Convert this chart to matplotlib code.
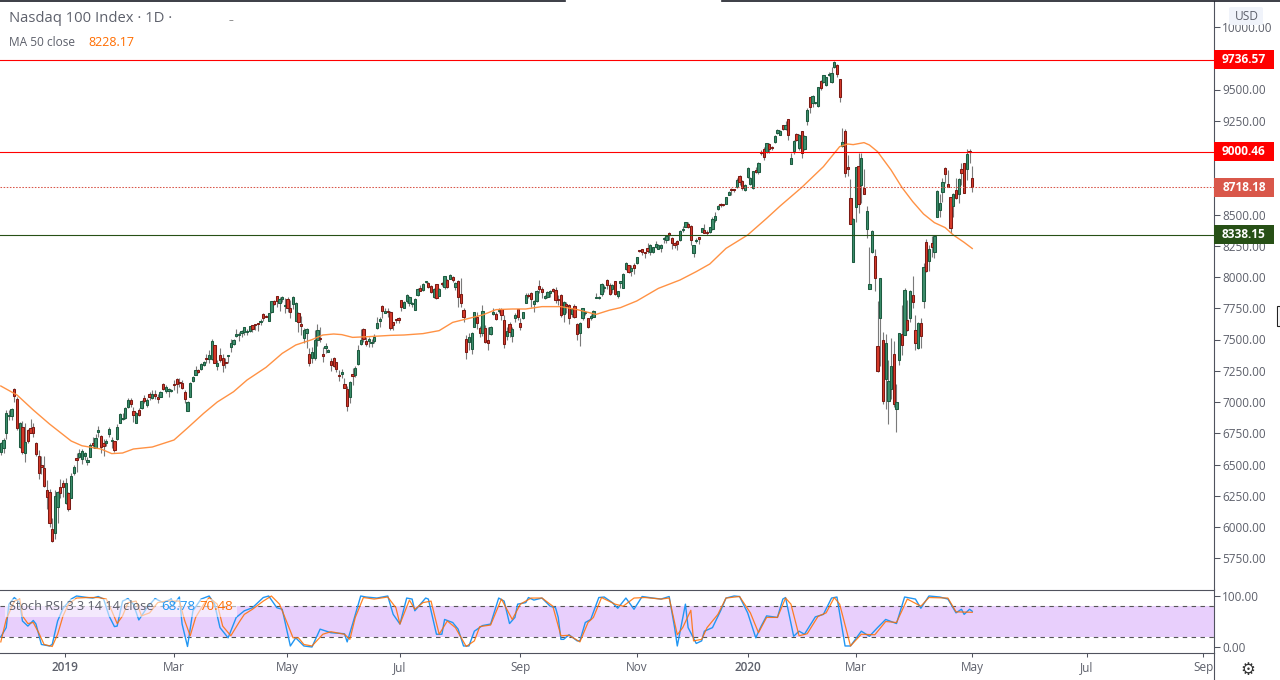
import matplotlib
matplotlib.use("Agg")
import matplotlib.pyplot as plt
from matplotlib.patches import Rectangle, FancyBboxPatch
from matplotlib.transforms import blended_transform_factory

plt.rcParams["font.family"] = ["Open Sans", "DejaVu Sans"]

# open, high, low, close, one list per stretch of the chart
bars_dec_jan = [
    (6603,6683,6576,6669),(6629,6709,6595,6696),(6749,6936,6701,6909),(6885,6936,6856,6890),(6888,6949,6856,6941),
    (7101,7109,7003,7051),(7024,7043,6776,6789),(6643,6843,6629,6829),(6797,6851,6584,6603),(6595,6829,6523,6677),
    (6776,6781,6669,6691),(6789,6861,6755,6755),(6797,6829,6717,6755),(6669,6683,6568,6587),(6565,6616,6384,6435),
    (6496,6568,6424,6483),(6469,6568,6323,6331),(6296,6376,6141,6237),(6283,6301,6003,6035),(5981,6069,5883,5891),
    (5955,6296,5901,6251),(6157,6291,6035,6277),(6317,6381,6229,6275),(6349,6376,6243,6323),(6189,6389,6184,6349),
    (6269,6283,6131,6141),(6235,6435,6229,6411),(6429,6496,6416,6477),(6549,6595,6443,6539),(6563,6621,6549,6589),
    (6541,6621,6504,6611),(6571,6603,6536,6595),(6523,6557,6499,6536),(6563,6669,6557,6656),(6669,6717,6629,6659),
    (6635,6741,6629,6709),(6763,6808,6717,6776),(6728,6736,6595,6637),(6675,6701,6571,6648),(6669,6701,6651,6691),
    (6747,6803,6723,6781),(6688,6723,6629,6691),(6685,6691,6600,6619),(6701,6824,6696,6797),(6835,6915,6829,6901),
    (6861,6915,6856,6869),(6869,6957,6861,6949),(6963,7029,6949,7016),(7013,7029,6957,6987),(6925,6957,6843,6899),
    (6835,6917,6829,6909),(6933,6949,6888,6899),(6949,7016,6941,7005),(7029,7056,6989,7005),(6979,7029,6963,7016),
    (7061,7083,7016,7043),(7029,7096,7021,7064),(7064,7096,7021,7051),(7037,7064,6989,7027),(7043,7088,7037,7083),
    (7144,7149,7096,7107),(7091,7136,7075,7117),(7085,7109,7037,7107),(7085,7101,7080,7091),(7144,7176,7096,7139),
    (7181,7189,7069,7144),(7155,7189,7117,7149),(7149,7176,7101,7109),(7083,7096,6995,7021),(6931,7011,6931,7003),
    (7043,7163,7037,7155),
]
bars_spring = [
    (7171,7208,7163,7197),(7219,7288,7216,7253),(7253,7261,7229,7237),(7267,7309,7256,7304),(7299,7328,7288,7317),
    (7349,7384,7309,7341),(7341,7416,7309,7373),(7341,7501,7336,7485),(7453,7456,7309,7315),(7291,7336,7256,7309),
    (7373,7429,7323,7336),(7355,7384,7243,7299),(7320,7349,7269,7315),(7368,7373,7315,7373),(7443,7501,7403,7469),
    (7467,7501,7456,7493),(7531,7581,7523,7541),(7533,7563,7491,7536),(7555,7576,7517,7571),(7557,7603,7536,7597),
    (7563,7581,7536,7566),(7571,7608,7563,7605),(7613,7616,7563,7584),(7621,7624,7576,7618),(7624,7629,7571,7621),
    (7640,7661,7616,7645),(7704,7715,7651,7675),(7685,7696,7677,7683),(7651,7715,7645,7709),(7717,7811,7709,7805),
    (7805,7816,7776,7781),(7845,7851,7763,7811),(7789,7837,7731,7821),(7821,7848,7803,7837),(7768,7829,7709,7776),
    (7821,7837,7720,7749),(7749,7816,7669,7717),(7781,7848,7741,7837),(7651,7803,7645,7789),(7709,7723,7563,7637),
    (7624,7688,7536,7611),(7515,7589,7469,7573),(7549,7589,7429,7581),(7381,7429,7288,7315),(7349,7443,7309,7397),
    (7349,7576,7336,7496),(7496,7624,7448,7573),(7509,7597,7483,7501),(7384,7443,7323,7371),(7435,7469,7389,7448),
    (7403,7421,7397,7416),(7325,7349,7251,7296),(7352,7357,7283,7291),(7317,7323,7243,7267),(7216,7256,7171,7211),
    (7227,7261,7189,7240),(7141,7189,7109,7115),(7104,7128,6931,6971),(7043,7168,6989,7160),(7221,7269,7136,7211),
    (7219,7288,7203,7272),(7304,7456,7296,7416),(7467,7581,7456,7496),(7581,7589,7483,7504),(7488,7523,7448,7467),
    (7488,7523,7443,7501),(7470,7501,7443,7473),(7488,7544,7475,7520),(7592,7683,7581,7632),(7645,7683,7603,7661),
    (7765,7776,7669,7731),(7715,7749,7709,7725),(7731,7749,7683,7717),
]
bars_summer = [
    (7717,7728,7576,7589),(7637,7643,7576,7616),(7656,7664,7629,7653),(7672,7683,7629,7656),(7813,7816,7728,7763),
    (7755,7808,7749,7797),(7811,7861,7789,7853),(7795,7851,7765,7837),(7781,7803,7763,7784),(7739,7829,7733,7824),
    (7856,7915,7851,7904),(7909,7936,7888,7891),(7896,7949,7888,7941),(7957,7971,7950,7965),(7952,7963,7909,7923),
    (7925,7936,7869,7883),(7843,7915,7829,7904),(7941,7947,7824,7829),(7851,7909,7845,7904),(7947,7957,7931,7941),
    (7923,8011,7904,8005),(7976,7984,7915,7920),(7987,8021,7981,8013),(8003,8011,7963,7979),(7923,7963,7896,7949),
    (7965,7976,7763,7843),(7861,7995,7763,7795),(7736,7749,7637,7683),(7504,7536,7344,7403),(7483,7549,7416,7523),
    (7427,7563,7381,7549),(7603,7723,7597,7717),(7677,7717,7584,7635),(7589,7611,7523,7552),(7549,7776,7531,7728),
    (7589,7616,7469,7480),(7493,7603,7416,7475),(7541,7611,7536,7600),(7707,7749,7696,7717),(7701,7723,7653,7661),
    (7725,7749,7709,7728),(7741,7755,7656,7699),(7653,7696,7435,7461),(7531,7603,7496,7565),(7621,7643,7523,7557),
    (7531,7603,7477,7581),(7669,7709,7643,7696),(7741,7744,7656,7683),(7629,7669,7576,7603),(7672,7723,7664,7717),
    (7795,7869,7789,7853),(7860,7869,7829,7848),(7869,7883,7763,7827),(7784,7816,7723,7808),(7811,7896,7803,7885),
    (7925,7976,7869,7904),(7901,7923,7829,7883),(7829,7856,7824,7848),(7843,7888,7835,7883),(7872,7893,7843,7885),
    (7904,7909,7883,7891),(7893,7923,7789,7819),(7819,7856,7776,7813),(7853,7861,7683,7699),(7701,7808,7643,7797),
    (7787,7797,7709,7771),(7776,7781,7621,7675),(7701,7749,7683,7741),(7771,7781,7669,7677),(7621,7629,7496,7541),
    (7549,7637,7451,7629),(7669,7755,7656,7749),(7712,7728,7696,7717),(7669,7675,7589,7597),(7669,7701,7656,7685),
    (7683,7736,7677,7731),(7829,7869,7829,7837),(7829,7845,7824,7837),(7861,7949,7851,7941),(7912,7936,7883,7917),
    (7973,7981,7904,7933),(7936,7949,7856,7861),
]
bars_autumn = [
    (7907,7944,7869,7933),(7965,7971,7856,7867),(7848,7891,7829,7885),(7949,7971,7909,7965),(7915,8029,7909,8021),
    (8067,8120,8056,8109),(8093,8096,8029,8040),(8051,8096,8008,8075),(8093,8109,8021,8072),(8115,8163,8104,8157),
    (8208,8219,8200,8205),(8221,8227,8176,8200),(8200,8203,8149,8189),(8229,8269,8195,8208),(8203,8264,8179,8253),
    (8203,8243,8195,8237),(8240,8288,8229,8261),(8227,8264,8221,8253),(8235,8264,8203,8256),(8301,8323,8269,8309),
    (8299,8339,8269,8331),(8352,8363,8296,8336),(8309,8323,8221,8275),(8269,8283,8229,8259),(8285,8296,8216,8267),
    (8299,8376,8291,8365),(8373,8408,8363,8381),(8403,8443,8397,8437),(8421,8443,8389,8397),(8405,8413,8256,8299),
    (8195,8259,8163,8253),(8285,8309,8269,8293),(8317,8323,8264,8301),(8363,8395,8357,8389),(8379,8424,8349,8355),
    (8357,8376,8336,8352),(8360,8403,8355,8397),(8387,8483,8376,8461),(8453,8523,8443,8485),(8541,8573,8536,8565),
    (8581,8589,8557,8575),(8581,8587,8565,8573),(8587,8643,8581,8637),(8659,8685,8653,8677),(8701,8709,8656,8693),
    (8701,8707,8680,8693),(8717,8789,8712,8776),
]
bars_winter = [
    (8805,8816,8736,8763),(8765,8776,8696,8709),(8696,8744,8691,8736),(8797,8877,8789,8872),(8744,8803,8736,8789),
    (8709,8851,8701,8845),(8856,8877,8829,8843),(8843,8923,8824,8909),(8995,9016,8976,8992),(9021,9037,8936,8963),
    (9003,9075,8989,9069),(9064,9069,8995,9027),(9037,9045,9020,9029),(9083,9136,9075,9125),(9155,9181,9144,9173),
    (9139,9176,9133,9165),(9213,9219,9176,9187),(9181,9251,9176,9216),(9261,9267,9096,9139),(8907,8989,8901,8949),
    (9011,9096,8984,9088),(9144,9149,9088,9099),(9035,9144,9016,9136),(9165,9171,8949,8989),(9027,9133,9016,9128),
    (9251,9349,9216,9336),(9440,9443,9309,9363),(9395,9456,9363,9448),(9392,9400,9385,9395),(9371,9523,9363,9517),
    (9565,9576,9496,9515),(9560,9619,9549,9613),(9539,9603,9528,9597),(9613,9640,9605,9621),(9563,9677,9555,9629),
    (9680,9731,9672,9717),(9696,9704,9603,9627),(9584,9584,9403,9443),
]
bars_crash = [
    (9048,9189,9043,9077),(9165,9181,8803,8829),(8877,8976,8808,8867),(8629,8781,8421,8427),(8123,8469,8120,8461),
    (8563,8883,8440,8877),(8885,8989,8509,8587),(8739,8989,8589,8949),(8709,8861,8664,8667),(8387,8568,8315,8525),
    (7907,8237,7901,7941),(8203,8376,8195,8365),(8165,8221,7891,7995),(7445,7808,7243,7251),(7675,7989,7288,7989),
    (7493,7557,6984,7011),(7187,7544,6944,7469),(7011,7336,6827,7165),(7104,7512,7024,7288),(7381,7488,6963,6987),
    (6947,7144,6763,6997),(7339,7555,7296,7549),(7541,7776,7376,7459),(7539,7909,7533,7893),(7653,7816,7568,7579),
    (7669,7896,7643,7885),(7853,8008,7755,7803),(7573,7696,7416,7475),(7435,7643,7427,7632),(7629,7669,7435,7525),
    (7811,8109,7755,8077),(8283,8301,8040,8045),(8131,8259,8051,8221),(8275,8328,8163,8237),(8203,8339,8155,8325),
    (8483,8696,8477,8688),(8539,8664,8483,8589),(8683,8789,8603,8757),(8869,8877,8749,8827),(8741,8856,8717,8723),
    (8637,8643,8355,8395),(8571,8669,8483,8661),(8693,8789,8621,8635),(8661,8789,8595,8781),(8861,8909,8736,8835),
    (8909,8915,8669,8675),(8867,9021,8776,8984),(9005,9024,8909,9000),(8789,8888,8680,8718),
]

# MA 50 line, read at these bar numbers
ma_idx = [0,6,12,18,26,30,37,41,45,49,56,64,69,75,80,86,91,98,104,109,115,119,123,126,130,136,144,149,156,162,
          167,173,178,183,189,194,200,207,213,220,225,229,235,243,251,257,262,268,276,283,288,296,304,310,313,315,
          319,321,324,329,333,337,341,345,349,352,356,359]
ma_vals = [7128,7056,6936,6824,6688,6650,6624,6587,6592,6624,6640,6696,6792,6910,7000,7082,7176,7277,7389,7456,
           7499,7536,7544,7539,7517,7523,7533,7536,7547,7571,7637,7669,7696,7739,7744,7744,7763,7763,7739,7701,
           7735,7755,7808,7909,7976,8043,8104,8229,8336,8469,8568,8717,8883,9043,9064,9059,9075,9056,9003,8856,
           8717,8603,8504,8435,8395,8336,8277,8228]

# Stoch RSI lines
k_idx = [0,2,3,5,7,8,10,12,13,15,18,19,21,23,26,28,32,34,36,38,40,42,43,45,47,49,51,54,57,60,63,64,66,67,69,71,74,
         77,79,81,84,87,90,93,97,99,102,104,107,109,112,115,118,122,127,128,130,133,135,139,143,145,147.5,150,152,
         153,157,158,161,163,164,167,169,171,173,175,178,181,184,186,188,190,191,194,195,197,200,203,205,206,207,
         208,210,213,214,216,218,221,223,226,228,231,234,237,241,244,247,249,250,253,254,257,259,260,263,266,268,
         271,273,276,279,281,283,287,289,290,293,295,297,301,304,307,309,312,314,318,321,324,327,331,334,338,340,
         343,347,350,353,355,356,358,359]
k_vals = [20,38,84,97,87,51,41,52,45,5,2,5,51,76,94,100,97,96,99,94,61,40,41,90,95,84,53,77,95,87,94,84,98,45,1,71,94,
          100,84,38,18,58,71,77,97,100,77,74,2,18,2,0,35,28,26,10,45,100,98,96,100,64,45,96,94,
          71,96,94,25,25,54,48,35,2,2,31,42,45,96,90,46,58,84,87,97,92,96,80,77,58,15,
          15,24,12,12,48,54,97,98,87,76,96,74,99,96,94,99,38,2,84,38,7,12,31,38,71,96,
          100,99,67,18,41,61,58,94,97,21,31,25,59,64,96,98,2,2,31,21,38,54,46,98,94,76,
          100,98,94,67,74,64,74,70]
d_idx = [0,2,5,7,8,10,12,14,16,19,21,23,25,28,32,36,39,41,43,45,47,50,52,55,58,61,63,66,68,70,72,75,77,80,82,85,88,90,
         93,97,100,103,105,108,110,112,115,119,122,127,129,131,134,138,143,146,147.5,151,153,156,159,162,165,168,172,
         175,177,181,185,189,192,196,200,204,207,210,214,217,219,222,227,230,234,238,244,247,250,252,255,256,259,
         261,265,268,273,277,280,283,287,290,292,295,298,302,305,308,310,314,318,323,327,331,335,340,343,350,353,359]
d_vals = [10,54,90,94,61,46,48,28,5,1,25,61,84,96,97,97,94,71,46,61,87,90,61,67,87,90,90,90,51,22,58,84,97,84,41,22,48,64,
          74,90,100,84,58,18,18,5,2,25,30,25,15,58,97,94,98,77,45,92,74,87,90,25,51,38,1,
          12,40,43,94,54,84,96,96,80,22,23,10,48,58,97,84,80,96,97,94,96,24,38,72,12,15,
          38,64,96,99,67,28,58,58,96,84,22,26,60,67,97,84,2,25,24,50,48,94,80,97,96,69,68]

# right scale
price_ticks = [10000,9500,9250,8500,8250,8000,7750,7500,7250,7000,6750,6500,6250,6000,5750]
level_prices = [9736.57, 9000.46, 8338.15]
level_colors = ["#ff0000", "#ff0000", "#275016"]
last_price = 8718.18
last_color = "#d9574a"
stoch_ticks = [100, 0]
month_idx = [23.7, 64, 105.8, 147.5, 192, 235, 276, 316, 359, 401.4, 444.3]
month_labels = ["2019", "Mar", "May", "Jul", "Sep", "Nov", "2020", "Mar", "May", "Jul", "Sep"]

bars = bars_dec_jan + bars_spring + bars_summer + bars_autumn + bars_winter + bars_crash

W, H = 1280, 680
AXIS_X = 1214
GRAY = "#50535e"
TXT = "#5d606b"

fig = plt.figure(figsize=(12.8, 6.8), dpi=100)
ax = fig.add_axes([0, 1 - 589 / H, AXIS_X / W, 588 / H])
ax2 = fig.add_axes([0, 1 - 653 / H, AXIS_X / W, 64 / H])

x_min = -0.8 / 2.706
x_max = (AXIS_X - 0.8) / 2.706
ax.set_xlim(x_min, x_max)
ax.set_ylim(10000 - (589 - 27) * 8, 10000 - (1 - 27) * 8)
ax2.set_xlim(x_min, x_max)
ax2.set_ylim((647 - 653) / 0.51, (647 - 589) / 0.51)

# candles
for i, (o, h, l, c) in enumerate(bars):
    up = c >= o
    ax.vlines(i, l, h, color="#7a7a7a", lw=0.8, zorder=2)
    ax.add_patch(Rectangle((i - 0.42, min(o, c)), 0.84, max(abs(c - o), 8),
                           facecolor="#3d8f6c" if up else "#d63a2a",
                           edgecolor="#1d5b40" if up else "#7c1a14",
                           lw=0.75, zorder=3))

ax.plot(ma_idx, ma_vals, color="#ff8c3a", lw=1.0, alpha=0.95, zorder=4)

for p, col in zip(level_prices, level_colors):
    ax.axhline(p, color=col, lw=0.8, zorder=5)
ax.axhline(last_price, color=last_color, lw=0.75, ls=(0, (1.5, 1.5)), zorder=5)

ax.yaxis.tick_right()
ax.set_yticks(price_ticks)
ax.set_yticklabels(["%.2f" % t for t in price_ticks])
ax.tick_params(axis="y", length=4, width=0.75, color=GRAY, labelcolor=TXT, labelsize=8.5, pad=2)
ax.set_xticks([])
for s in ["left", "top", "bottom"]:
    ax.spines[s].set_visible(False)
ax.spines["right"].set_color(GRAY)
ax.spines["right"].set_linewidth(0.8)

# price labels on the scale
tr = blended_transform_factory(ax.transAxes, ax.transData)
box_w = 60 / AXIS_X
for p, col in zip(level_prices + [last_price], level_colors + [last_color]):
    ax.add_patch(Rectangle((1, p - 76), box_w, 152, transform=tr, facecolor=col,
                           edgecolor="none", clip_on=False, zorder=6))
    ax.text(1 + box_w / 2, p, "%.2f" % p, transform=tr, color="white", fontsize=8.6, fontweight="bold",
            ha="center", va="center", zorder=7, clip_on=False)

# stoch pane
ax2.axhspan(20, 80, facecolor="#e8cffc", edgecolor="none", zorder=1)
ax2.axhline(80, color="#555555", lw=0.8, ls=(0, (4, 4)), zorder=2)
ax2.axhline(20, color="#555555", lw=0.8, ls=(0, (4, 4)), zorder=2)
ax2.plot(k_idx, k_vals, color="#2196f3", lw=1.0, zorder=3)
ax2.plot(d_idx, d_vals, color="#ff6d00", lw=0.9, alpha=0.85, zorder=4)

ax2.add_patch(Rectangle((5 / AXIS_X, 0.56), 232 / AXIS_X, 0.28, transform=ax2.transAxes,
                        facecolor="white", alpha=0.55, edgecolor="none", zorder=5))
ax2.text(9 / AXIS_X, 0.72, "Stoch RSI 3 3 14 14 close", transform=ax2.transAxes, color="#5d606b",
         fontsize=9.1, va="center", zorder=6)
ax2.text(161 / AXIS_X, 0.72, "68.78", transform=ax2.transAxes, color="#2196f3", fontsize=9.6, va="center", zorder=6)
ax2.text(199 / AXIS_X, 0.72, "70.48", transform=ax2.transAxes, color="#ff6d00", fontsize=9.6, va="center", zorder=6)

ax2.yaxis.tick_right()
ax2.set_yticks(stoch_ticks)
ax2.set_yticklabels(["%.2f" % t for t in stoch_ticks])
ax2.set_xticks(month_idx)
ax2.set_xticklabels(month_labels)
for lab, txt in zip(ax2.get_xticklabels(), month_labels):
    if txt.startswith("20"):
        lab.set_fontweight("semibold")
ax2.tick_params(axis="y", length=4, width=0.75, color=GRAY, labelcolor=TXT, labelsize=8.5, pad=2)
ax2.tick_params(axis="x", length=3, width=0.75, color=GRAY, labelcolor=TXT, labelsize=8.5, pad=2.5)
for s in ["left", "top"]:
    ax2.spines[s].set_visible(False)
for s in ["right", "bottom"]:
    ax2.spines[s].set_color(GRAY)
    ax2.spines[s].set_linewidth(0.8)

# everything outside the panes, in figure pixels from the top
def px(x, y):
    return x / W, 1 - y / H

fig.add_artist(plt.Line2D([0, AXIS_X / W], [1 - 589.5 / H] * 2, color=GRAY, lw=0.8))
fig.add_artist(plt.Line2D([AXIS_X / W, AXIS_X / W], [1 - 653 / H, 0], color=GRAY, lw=0.8))
fig.add_artist(plt.Line2D([0, 565 / W], [1 - 0.5 / H] * 2, color="#1a1d26", lw=1.2))
fig.add_artist(plt.Line2D([722 / W, 1], [1 - 0.5 / H] * 2, color="#1a1d26", lw=1.2))

fig.text(*px(9, 18), "Nasdaq 100 Index · 1D ·", color=TXT, fontsize=10.6, va="center")
fig.text(*px(9, 42), "MA 50 close", color=TXT, fontsize=8.6, va="center")
fig.text(*px(88, 42), "8228.17", color="#ff6d00", fontsize=9.0, va="center")
fig.text(*px(229, 22), "~", color="#222222", fontsize=6, va="center")

usd = FancyBboxPatch((1229 / W, 1 - 25 / H), 34 / W, 18 / H, transform=fig.transFigure,
                     boxstyle="round,pad=0,rounding_size=0.002", facecolor="#f0f3fa", edgecolor="none", zorder=8)
fig.add_artist(usd)
fig.text(*px(1247, 16), "USD", color=TXT, fontsize=8.6, ha="center", va="center", zorder=9)
fig.text(*px(1248, 670), "\u2699", color="#333333", fontsize=12, ha="center", va="center",
         family="DejaVu Sans")
fig.add_artist(Rectangle((1277 / W, 1 - 326 / H), 3 / W, 20 / H, transform=fig.transFigure,
                         facecolor="white", edgecolor="#222222", lw=0.8))

fig.savefig("out.png", dpi=100)
